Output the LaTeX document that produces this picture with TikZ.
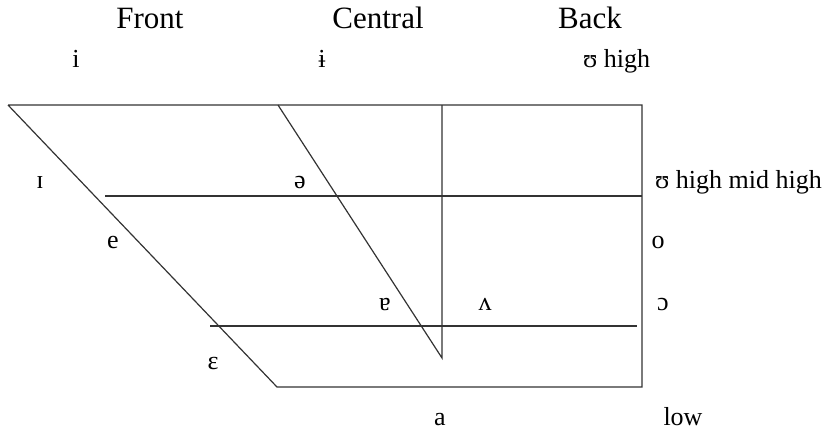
\documentclass[tikz,border=0pt]{standalone}
\usepackage{fontspec}
\setmainfont{Liberation Serif}
\usepackage{tikz}

\begin{document}
\begin{tikzpicture}[
  x=1pt, y=-1pt,
  lbl/.style={anchor=base, inner sep=0pt, font=\fontsize{31}{34}\selectfont},
  vowel/.style={anchor=base, inner sep=0pt, font=\fontsize{26}{30}\selectfont},
  edge/.style={line width=1.2pt, draw=black!80}
]
  \useasboundingbox (0,0) rectangle (829,432);

  % corners of the chart
  \coordinate (tl) at (8,105);
  \coordinate (tr) at (642,105);
  \coordinate (br) at (642,387);
  \coordinate (bl) at (277,387);
  \coordinate (ctop) at (278,105);
  \coordinate (vtop) at (442,105);
  \coordinate (vbot) at (442,358);
  \coordinate (mhl) at (105,196);
  \coordinate (mhr) at (642,196);
  \coordinate (lml) at (210,326);
  \coordinate (lmr) at (637,326);

  % column heads
  \node[lbl] (front) at (150,28) {Front};
  \node[lbl] (central) at (378,28) {Central};
  \node[lbl] (back) at (590,28) {Back};

  % vowels
  \node[vowel] (ihigh) at (76,67) {i};
  \node[vowel] (ibar) at (322,67) {ɨ};
  \node[vowel, anchor=base west] (uhigh) at (583,67) {ʊ high};
  \node[vowel] (ismall) at (40,188) {ɪ};
  \node[vowel] (schwa) at (300,188) {ə};
  \node[vowel, anchor=base west] (umid) at (655,188) {ʊ high mid high};
  \node[vowel] (emid) at (113,248) {e};
  \node[vowel] (omid) at (658,248) {o};
  \node[vowel] (turna) at (385,310) {ɐ};
  \node[vowel] (wedge) at (485,310) {ʌ};
  \node[vowel] (openo) at (663,310) {ɔ};
  \node[vowel] (eps) at (213,369) {ɛ};
  \node[vowel] (alow) at (440,425) {a};
  \node[vowel] (low) at (683,425) {low};

  % chart lines
  \draw[edge] (tl) -- (tr) -- (br) -- (bl) -- (tl);
  \draw[edge] (ctop) -- (vbot) -- (vtop);
  \draw[edge] (mhl) -- (mhr);
  \draw[edge] (lml) -- (lmr);
\end{tikzpicture}
\end{document}
